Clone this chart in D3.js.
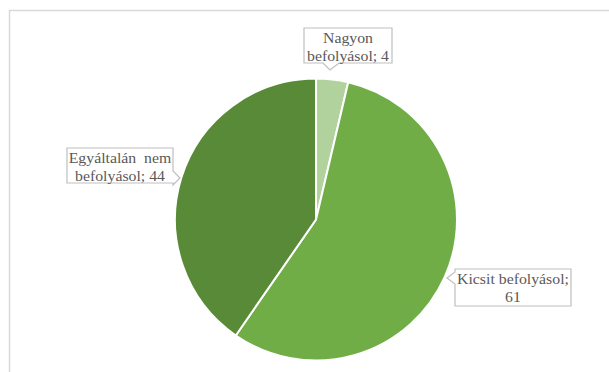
<!DOCTYPE html>
<html><head><meta charset="utf-8">
<script src="https://cdn.jsdelivr.net/npm/d3@7"></script>
<style>body{margin:0;background:#fff}svg{display:block}</style>
</head><body>
<script>
const categories = ["Nagyon befolyásol", "Kicsit befolyásol", "Egyáltalán nem befolyásol"];
const values = [4, 61, 44];
const labelLines = [["Nagyon", "befolyásol; 4"], ["Kicsit befolyásol;", "61"], ["Egyáltalán  nem", "befolyásol; 44"]];
const colors = ["#b1d29c", "#70ad47", "#588a37"];

const W = 609, H = 372;
const svg = d3.select("body").append("svg").attr("width", W).attr("height", H);
// chart frame
svg.append("rect").attr("x", 9.5).attr("y", 10.5).attr("width", 700).attr("height", 500)
  .attr("fill", "none").attr("stroke", "#d9d9d9").attr("stroke-width", 1.5);

const cx = 316, cy = 219.5, r = 141;
const pie = d3.pie().sort(null).value(d => d)(values);
const arc = d3.arc().innerRadius(0).outerRadius(r);
const g = svg.append("g").attr("transform", `translate(${cx},${cy})`);
g.selectAll("path").data(pie).join("path")
  .attr("d", arc).attr("fill", (d, i) => colors[i])
  .attr("stroke", "#fff").attr("stroke-width", 2);

// callout boxes
const boxes = [
  {x: 304, y: 28, w: 88, h: 35, side: "bottom", px: 331, tip: [330, 70]},
  {x: 455, y: 269, w: 116, h: 37, side: "left", py: 278, tip: [447, 278]},
  {x: 67, y: 148, w: 106, h: 35, side: "right", py: 178, tip: [180, 178]}
];
boxes.forEach((b, i) => {
  let p;
  const x0 = b.x, y0 = b.y, x1 = b.x + b.w, y1 = b.y + b.h;
  if (b.side === "bottom") {
    p = `M${x0},${y0}H${x1}V${y1}H${b.px + 8}L${b.tip[0]},${b.tip[1]}L${b.px - 8},${y1}H${x0}Z`;
  } else if (b.side === "left") {
    p = `M${x0},${y0}H${x1}V${y1}H${x0}V${b.py + 6}L${b.tip[0]},${b.tip[1]}L${x0},${b.py - 6}Z`;
  } else {
    p = `M${x0},${y0}H${x1}V${b.py - 7}L${b.tip[0]},${b.tip[1]}L${x1},${b.py + 7}V${y1}H${x0}Z`;
  }
  svg.append("path").attr("d", p).attr("fill", "#fff").attr("stroke", "#bfbfbf").attr("stroke-width", 1.2);
  const t = svg.append("text").attr("font-family", "Liberation Serif, Times New Roman, serif")
    .attr("font-size", 14.5).attr("fill", "#595959").attr("text-anchor", "middle")
    .attr("transform", `translate(${b.x + b.w / 2},${b.y}) scale(1.09,1)`);
  labelLines[i].forEach((ln, j) => {
    t.append("tspan").attr("x", 0).attr("y", 15.5 + j * 17.5).attr("xml:space", "preserve").text(ln);
  });
});
</script>
</body></html>
